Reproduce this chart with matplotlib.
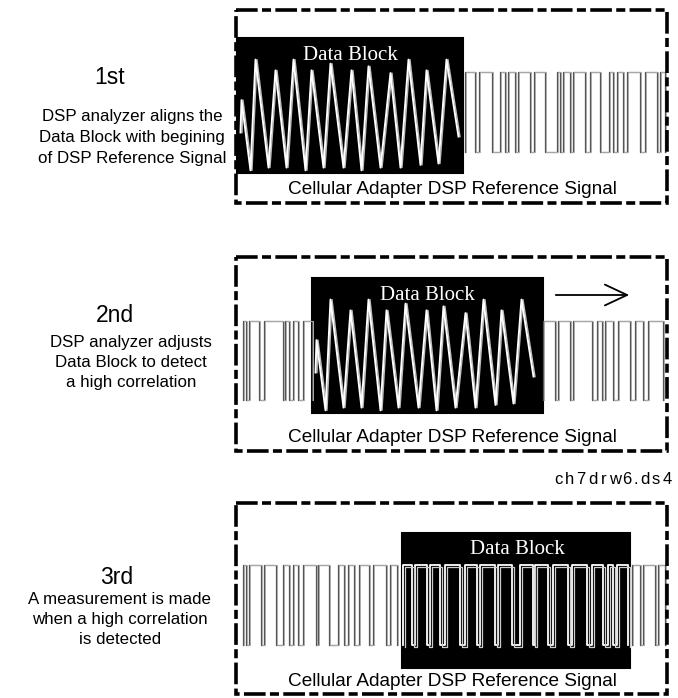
import matplotlib
matplotlib.use("Agg")
import matplotlib.pyplot as plt
from matplotlib.patches import Rectangle

# -----------------------------
# Text content
# -----------------------------
STEP_TITLES = ["1st", "2nd", "3rd"]
STEP_LINES = [
    ["DSP analyzer aligns the", "Data Block with begining", "of DSP Reference Signal"],
    ["DSP analyzer adjusts", "Data Block to detect", "a high correlation"],
    ["A measurement is made", "when a high correlation", "is detected"],
]
CAPTION = "Cellular Adapter DSP Reference Signal"
BLOCK_LABEL = "Data Block"
DRAWING_ID = "ch7drw6.ds4"

# -----------------------------
# Signals (drawing units)
# -----------------------------
# triangle "Data Block" waveform: offset inside block, level 0..1
TRI_X = [5, 6, 15, 20, 33, 40, 51, 58, 70, 76, 88, 95, 108, 116, 126, 133,
         145, 155, 165, 173, 185, 191, 203, 211, 223]
TRI_Y = [0.30, 0.54, 0.02, 0.84, 0.04, 0.76, 0.04, 0.84, 0.02, 0.76, 0.04, 0.81,
         0.04, 0.76, 0.02, 0.79, 0.04, 0.74, 0.04, 0.84, 0.06, 0.76, 0.07, 0.84, 0.27]

# reference signal high pulses (start, end)
REF1_HIGH = [(465, 475), (479, 492), (500, 505), (508, 515), (518, 530), (534, 545),
             (557, 560), (563, 570), (573, 585), (590, 600), (609, 613), (617, 623),
             (627, 640), (645, 657), (660, 665)]
REF2_HIGH = [(243, 246), (249, 259), (264, 283), (285, 289), (293, 298), (303, 312),
             (543, 555), (558, 570), (573, 592), (597, 602), (605, 613), (618, 630),
             (635, 643), (648, 663)]
REF3_HIGH = [(243, 246), (249, 261), (264, 276), (283, 289), (293, 298), (303, 316),
             (318, 329), (338, 344), (348, 354), (359, 369), (373, 386), (390, 397),
             (403, 412), (415, 427), (430, 440), (445, 460), (465, 477), (480, 495),
             (498, 512), (520, 533), (535, 548), (553, 568), (572, 587), (592, 603),
             (608, 613), (617, 628), (632, 640), (643, 655), (658, 665)]

# panel geometry (box, data block, signal levels)
BOXES = [(236, 10, 667, 203), (236, 257, 667, 451), (236, 503, 667, 694)]
BLOCKS = [(237, 38, 463, 173), (312, 278, 543, 413), (402, 533, 630, 668)]
LEVELS = [(72, 152), (321, 400), (565, 645)]
TITLE_XY = [(110, 77), (115, 315), (117, 577)]
LINES_X = [132, 131, 120]
LINES_Y0 = [117, 342, 599]

fig = plt.figure(figsize=(6.78, 6.98), dpi=100)
ax = fig.add_axes([0, 0, 1, 1])
ax.set_xlim(0, 678)
ax.set_ylim(698, 0)
ax.axis("off")

sans = ["Liberation Sans", "DejaVu Sans"]
serif = ["Liberation Serif", "DejaVu Serif"]


def square_path(highs, hi, lo):
    xs, ys = [], []
    for a, b in highs:
        xs += [a, a, b, b]
        ys += [lo, hi, hi, lo]
    return xs, ys


for i in range(3):
    x0, y0, x1, y1 = BOXES[i]
    ax.add_patch(Rectangle((x0, y0), x1 - x0, y1 - y0, fill=False, ec="black",
                           lw=2.6, ls=(0, (6, 1.2, 2.5, 1.2)), zorder=5))
    hi, lo = LEVELS[i]
    bx0, by0, bx1, by1 = BLOCKS[i]
    ref = [REF1_HIGH, REF2_HIGH, REF3_HIGH][i]

    # block (black)
    ax.add_patch(Rectangle((bx0, by0), bx1 - bx0, by1 - by0, fc="black", ec="black",
                           lw=1.5, zorder=2))

    # reference signal outside block (left and right parts drawn apart)
    for part in ([(a, b) for a, b in ref if b <= bx0],
                 [(a, b) for a, b in ref if a >= bx1]):
        if not part:
            continue
        xs, ys = square_path(part, hi, lo)
        ax.plot(xs, ys, color="#555555", lw=0.9, zorder=3)
        ax.plot([x + 1.2 for x in xs], ys, color="#aaaaaa", lw=0.7, zorder=3)

    if i < 2:
        tx = [bx0 + t for t in TRI_X]
        ty = [by1 - v * (by1 - by0) for v in TRI_Y]
        ax.plot(tx, ty, color="#bbbbbb", lw=1.0, zorder=3)
        ax.plot([x - 1.5 for x in tx], ty, color="white", lw=1.4, zorder=3)
    else:
        inside = [(a, b) for a, b in ref if a >= bx0 and b <= bx1]
        xs, ys = square_path(inside, hi, lo)
        ax.plot(xs, ys, color="white", lw=1.3, zorder=3)
        ax.plot([x + 2 for x in xs], [y + 2 for y in ys], color="#cccccc", lw=0.9, zorder=3)

    ax.text((bx0 + bx1) / 2 if i < 2 else bx0 + 115, by0 + 17, BLOCK_LABEL,
            family=serif, fontsize=15, color="white", ha="center", va="center", zorder=4)
    ax.text(452, y1 - 13, CAPTION, family=sans, fontsize=13.7, ha="center",
            va="center", zorder=4)

    tx, ty = TITLE_XY[i]
    ax.text(tx, ty, STEP_TITLES[i], family=sans, fontsize=16.5, ha="center", va="center")
    for k, line in enumerate(STEP_LINES[i]):
        ax.text(LINES_X[i], LINES_Y0[i] + k * 20.5, line, family=sans, fontsize=12.2,
                ha="center", va="center")

# arrow in panel 2
ax.annotate("", xy=(632, 295), xytext=(553, 295),
            arrowprops=dict(arrowstyle="->,head_length=1.6,head_width=0.75",
                            color="black", lw=1.3))

# letter-spaced drawing id (narrower slot for the dot)
cx = 558
for ch in DRAWING_ID:
    w = 6 if ch == "." else 11.5
    ax.text(cx + (w - 11.5) / 2, 480, ch, family=sans, fontsize=12,
            ha="center", va="center")
    cx += w

fig.savefig("out.png", dpi=100, facecolor="white")
